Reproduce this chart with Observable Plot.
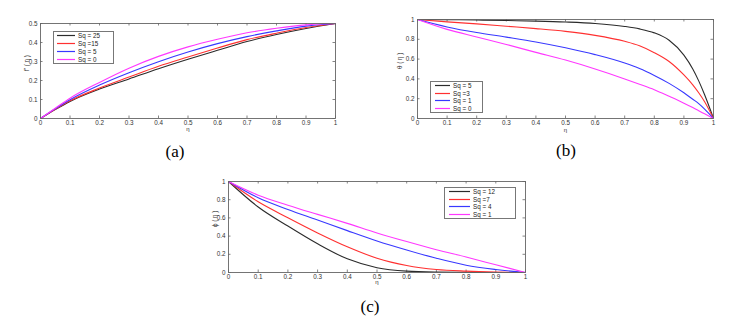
<!DOCTYPE html>
<html><head><meta charset="utf-8">
<script src="https://cdn.jsdelivr.net/npm/d3@7"></script>
<script src="https://cdn.jsdelivr.net/npm/@observablehq/plot@0.6"></script>
<style>
body{margin:0;background:#fff;}
#root{position:relative;width:729px;height:331px;overflow:hidden;background:#fff;font-family:"Liberation Sans",Arial,sans-serif;}
.panel{position:absolute;}
.legend{position:absolute;border:1px solid #777;background:#fff;box-sizing:border-box;}
.cap{position:absolute;font-family:"Liberation Serif","DejaVu Serif","Times New Roman",serif;font-size:17px;color:#000;transform:translate(-50%,-50%);white-space:nowrap;}
</style></head><body><div id="root"></div>
<script>
// ---------- data ----------
const xTicks = [0,0.1,0.2,0.3,0.4,0.5,0.6,0.7,0.8,0.9,1];

// panel (a): f'(eta)
const etaA = [0,0.05,0.1,0.2,0.3,0.4,0.5,0.6,0.7,0.8,0.9,1];
const a_labels = ["Sq = 25","Sq =15","Sq = 5","Sq = 0"];
const a_sq25 = [0,0.047,0.090,0.155,0.208,0.262,0.312,0.359,0.405,0.442,0.474,0.5];
const a_sq15 = [0,0.048,0.093,0.160,0.218,0.275,0.324,0.371,0.415,0.449,0.479,0.5];
const a_sq5  = [0,0.051,0.099,0.176,0.241,0.299,0.350,0.394,0.431,0.461,0.486,0.5];
const a_sq0  = [0,0.054,0.107,0.190,0.265,0.327,0.377,0.417,0.451,0.475,0.493,0.5];
const a_yTicks = [0,0.1,0.2,0.3,0.4,0.5];

// panel (b): theta(eta)
const etaB = [0,0.1,0.2,0.3,0.4,0.5,0.6,0.7,0.75,0.8,0.85,0.9,0.93,0.95,0.97,1];
const b_labels = ["Sq = 5","Sq =3","Sq = 1","Sq = 0"];
const b_sq5 = [1,0.998,0.995,0.99,0.984,0.975,0.96,0.93,0.905,0.865,0.79,0.64,0.5,0.38,0.24,0];
const b_sq3 = [1,0.976,0.956,0.932,0.908,0.88,0.84,0.78,0.735,0.665,0.576,0.44,0.34,0.26,0.17,0];
const b_sq1 = [1,0.925,0.868,0.822,0.773,0.714,0.645,0.56,0.505,0.435,0.355,0.26,0.195,0.15,0.095,0];
const b_sq0 = [1,0.9,0.824,0.748,0.668,0.59,0.5,0.4,0.346,0.29,0.224,0.155,0.11,0.078,0.047,0];
const b_yTicks = [0,0.2,0.4,0.6,0.8,1];

// panel (c): phi(eta)
const etaC = [0,0.1,0.2,0.3,0.4,0.5,0.6,0.7,0.8,0.9,1];
const c_labels = ["Sq = 12","Sq =7","Sq = 4","Sq = 1"];
const c_sq12 = [1,0.72,0.51,0.315,0.15,0.053,0.015,0.004,0.001,0,0];
const c_sq7  = [1,0.777,0.602,0.435,0.283,0.157,0.077,0.033,0.015,0.005,0];
const c_sq4  = [1,0.821,0.693,0.577,0.46,0.347,0.248,0.157,0.08,0.033,0];
const c_sq1  = [1,0.85,0.74,0.639,0.54,0.435,0.34,0.25,0.17,0.085,0];
const c_yTicks = [0,0.2,0.4,0.6,0.8,1];

const colors = ["#2b2b2b","#ff3030","#3838ff","#ff38ff"];

// ---------- drawing ----------
const root = document.getElementById("root");
const fmt = d => String(+d.toFixed(1));
const SVGNS = "http://www.w3.org/2000/svg";

function makePanel(cfg) {
  const {left, top, width, height, mt, mr, mb, ml, yDomain, yTicks, eta, series, ylabel, xlabDy, ylabDx} = cfg;
  const fw = width - ml - mr, fh = height - mt - mb;
  const ys = (yDomain[1]-yDomain[0]) * 2.5 / fh;
  const xs = 2.5 / fw;
  const marks = [
    Plot.ruleX(xTicks, {x: d=>d, y1: yDomain[0], y2: yDomain[0]+ys, stroke:"#666", strokeWidth:0.8}),
    Plot.ruleX(xTicks, {x: d=>d, y1: yDomain[1], y2: yDomain[1]-ys, stroke:"#666", strokeWidth:0.8}),
    Plot.ruleY(yTicks, {y: d=>d, x1: 0, x2: xs, stroke:"#666", strokeWidth:0.8}),
    Plot.ruleY(yTicks, {y: d=>d, x1: 1, x2: 1-xs, stroke:"#666", strokeWidth:0.8}),
    ...series.map((vals,k) => Plot.line(vals, {x: (d,i)=>eta[i], y: d=>d, stroke: colors[k], strokeWidth: 1.1, curve: "monotone-x"})),
    Plot.frame({stroke:"#666", strokeWidth:0.9}),
    Plot.axisX({ticks: xTicks, tickSize: 0, tickPadding: 2.5, tickFormat: fmt, fontSize: 6.3, fill: "#333", label: null}),
    Plot.axisY({ticks: yTicks, tickSize: 0, tickPadding: 3, tickFormat: fmt, fontSize: 6.3, fill: "#333", label: null}),
    Plot.text(["η"], {frameAnchor: "bottom", dy: xlabDy, text: d=>d, fontSize: 6, fill: "#333"}),
    Plot.text([ylabel], {frameAnchor: "left", dx: ylabDx, rotate: -90, text: d=>d, fontSize: 6.3, fill: "#333"})
  ];
  const svg = Plot.plot({
    width, height, marginTop: mt, marginRight: mr, marginBottom: mb, marginLeft: ml,
    x: {domain: [0,1]},
    y: {domain: yDomain},
    style: {fontFamily: '"Liberation Sans", Arial, sans-serif', fontSize: "6.3px", background: "transparent", overflow: "visible"},
    marks
  });
  const wrap = document.createElement("div");
  wrap.className = "panel";
  wrap.style.left = left + "px";
  wrap.style.top = top + "px";
  wrap.appendChild(svg);
  root.appendChild(wrap);
}

function makeLegend(cfg) {
  const {left, top, width, height, labels, lineX0, lineX1, textX, rowTop, rowGap} = cfg;
  const box = document.createElement("div");
  box.className = "legend";
  Object.assign(box.style, {left: left+"px", top: top+"px", width: width+"px", height: height+"px"});
  const svg = document.createElementNS(SVGNS, "svg");
  svg.setAttribute("width", width - 2);
  svg.setAttribute("height", height - 2);
  svg.style.display = "block";
  labels.forEach((lab, k) => {
    const cy = Math.round(rowTop + k*rowGap) + 0.5;
    const ln = document.createElementNS(SVGNS, "line");
    ln.setAttribute("x1", lineX0); ln.setAttribute("x2", lineX1);
    ln.setAttribute("y1", cy); ln.setAttribute("y2", cy);
    ln.setAttribute("stroke", colors[k]); ln.setAttribute("stroke-width", 1.2);
    const tx = document.createElementNS(SVGNS, "text");
    tx.setAttribute("x", textX); tx.setAttribute("y", cy);
    tx.setAttribute("dy", "0.35em");
    tx.setAttribute("font-size", "6.3");
    tx.setAttribute("fill", "#222");
    tx.setAttribute("font-family", '"Liberation Sans", Arial, sans-serif');
    tx.setAttribute("xml:space", "preserve");
    tx.textContent = lab;
    svg.appendChild(ln); svg.appendChild(tx);
  });
  box.appendChild(svg);
  root.appendChild(box);
}

function caption(text, x, y) {
  const d = document.createElement("div");
  d.className = "cap";
  d.style.left = x + "px";
  d.style.top = y + "px";
  d.textContent = text;
  root.appendChild(d);
}

// (a)
makePanel({left:0, top:0, width:350, height:140, mt:23, mr:15, mb:22, ml:40,
  yDomain:[0,0.5], yTicks:a_yTicks, eta:etaA, series:[a_sq25,a_sq15,a_sq5,a_sq0],
  ylabel:"f' ( η )", xlabDy:12.5, ylabDx:-14});
// (b)
makePanel({left:370, top:0, width:359, height:140, mt:19, mr:16, mb:22, ml:47,
  yDomain:[0,1], yTicks:b_yTicks, eta:etaB, series:[b_sq5,b_sq3,b_sq1,b_sq0],
  ylabel:"θ ( η )", xlabDy:13, ylabDx:-18});
// (c)
makePanel({left:190, top:160, width:350, height:132, mt:21, mr:15, mb:20, ml:38,
  yDomain:[0,1], yTicks:c_yTicks, eta:etaC, series:[c_sq12,c_sq7,c_sq4,c_sq1],
  ylabel:"ϕ ( η )", xlabDy:11.5, ylabDx:-14});

makeLegend({left:53, top:31, width:61, height:33, labels:a_labels, lineX0:3, lineX1:21, textX:24, rowTop:3, rowGap:8});
makeLegend({left:430, top:81, width:53, height:32, labels:b_labels, lineX0:4, lineX1:19, textX:22, rowTop:3, rowGap:7.7});
makeLegend({left:444, top:187, width:72, height:32, labels:c_labels, lineX0:4, lineX1:25, textX:28, rowTop:3, rowGap:7.6});

caption("(a)", 175, 152);
caption("(b)", 566, 151);
caption("(c)", 370, 307);
</script>
</body></html>
